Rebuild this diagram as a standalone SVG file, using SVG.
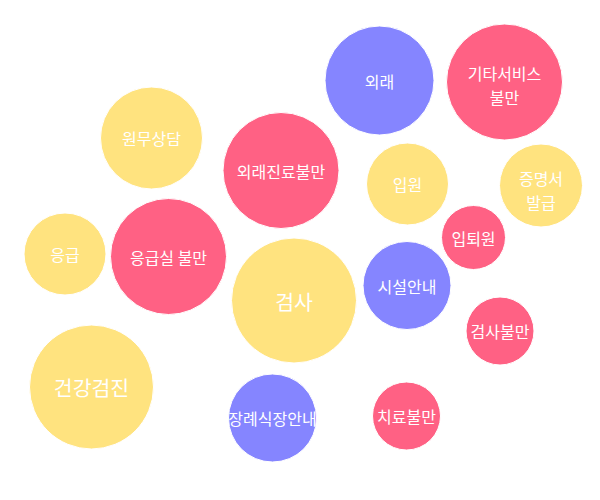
<svg xmlns="http://www.w3.org/2000/svg" width="600" height="500" viewBox="0 0 600 500">
<style>
.y{fill:#ffe37f;stroke:#fff;stroke-width:1}
.p{fill:#ff6184;stroke:#fff;stroke-width:1}
.v{fill:#8585ff;stroke:#fff;stroke-width:1}
text{fill:#fff;font-family:"Noto Sans CJK KR","Noto Sans",sans-serif;font-size:16px;text-anchor:middle;dominant-baseline:central}
.big{font-size:20.5px}
</style>
<rect width="600" height="500" fill="#fff"/>
<g id="connectors"/>
<g id="n-oerae"><circle class="v" cx="379.5" cy="80.5" r="54.5"/><text x="379.5" y="80.5">외래</text></g>
<g id="n-gitaservice"><circle class="p" cx="504.5" cy="82" r="58"/><text x="504.5" y="73">기타서비스</text><text x="504.5" y="96.5">불만</text></g>
<g id="n-wonmu"><circle class="y" cx="151.5" cy="138" r="51"/><text x="151.5" y="138">원무상담</text></g>
<g id="n-oeraejinryo"><circle class="p" cx="281" cy="170.5" r="58"/><text x="281" y="170.5">외래진료불만</text></g>
<g id="n-ipwon"><circle class="y" cx="407.5" cy="184" r="41"/><text x="407.5" y="184">입원</text></g>
<g id="n-jeungmyeong"><circle class="y" cx="541" cy="185.5" r="41.5"/><text x="541" y="178">증명서</text><text x="541" y="201.5">발급</text></g>
<g id="n-iptoewon"><circle class="p" cx="473.5" cy="237.5" r="32"/><text x="473.5" y="237.5">입퇴원</text></g>
<g id="n-eunggeup"><circle class="y" cx="65" cy="254" r="41"/><text x="65" y="254">응급</text></g>
<g id="n-eunggeupsil"><circle class="p" cx="168.5" cy="256.5" r="58"/><text x="168.5" y="256.5">응급실 불만</text></g>
<g id="n-geomsa"><circle class="y" cx="294" cy="300.5" r="62.5"/><text class="big" x="294" y="300.5">검사</text></g>
<g id="n-siseol"><circle class="v" cx="407" cy="285.5" r="44"/><text x="407" y="285.5">시설안내</text></g>
<g id="n-geomsabulman"><circle class="p" cx="500" cy="331" r="34"/><text x="500" y="331">검사불만</text></g>
<g id="n-geongang"><circle class="y" cx="91.5" cy="387" r="62"/><text class="big" x="91.5" y="387">건강검진</text></g>
<g id="n-jangrye"><circle class="v" cx="272.5" cy="418" r="44"/><text x="272.5" y="418">장례식장안내</text></g>
<g id="n-chiryo"><circle class="p" cx="406.5" cy="416" r="34"/><text x="406.5" y="416">치료불만</text></g>
</svg>
